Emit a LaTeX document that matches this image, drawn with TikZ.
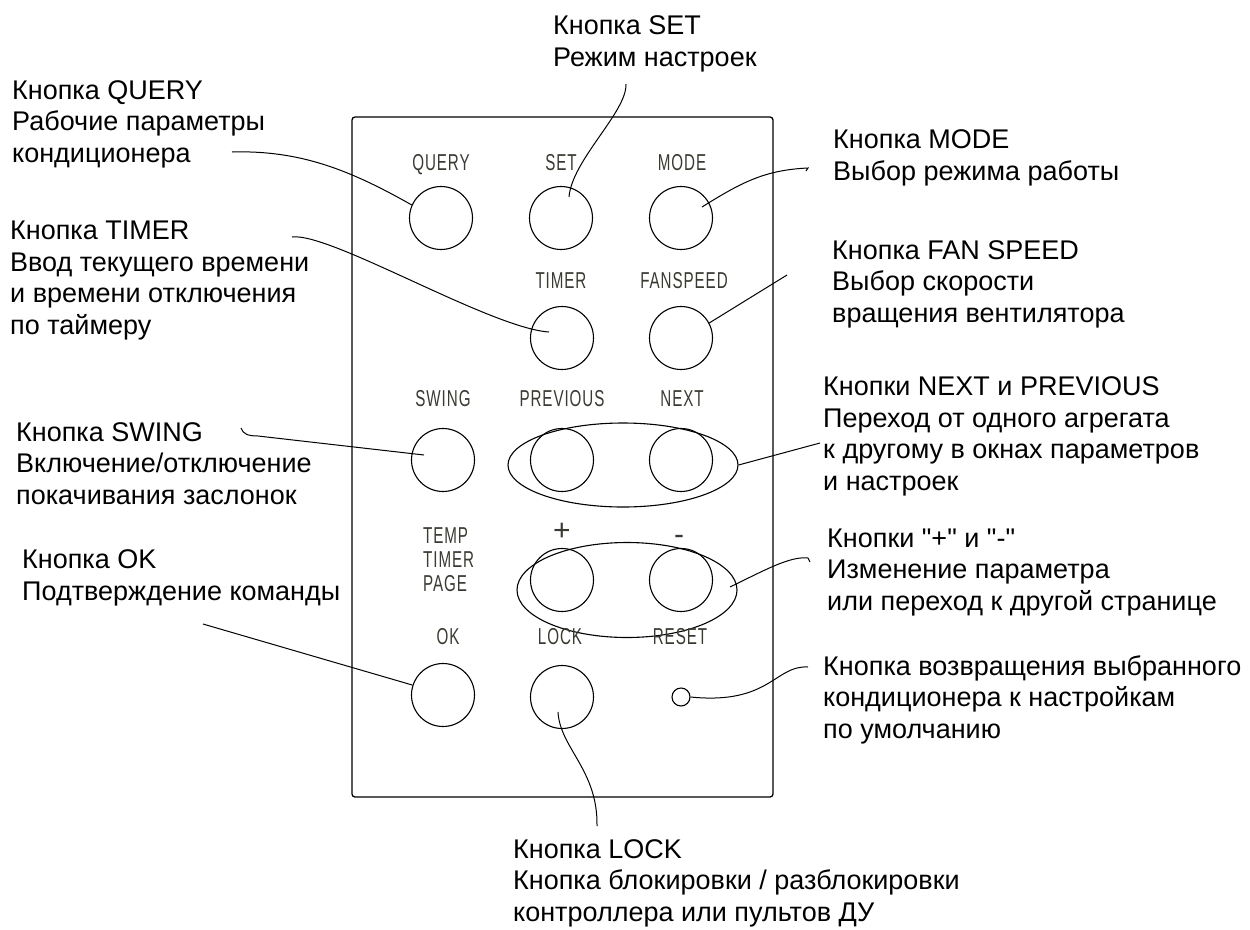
\documentclass[tikz,border=0pt]{standalone}
\usepackage{fontspec}
\setmainfont{Liberation Sans}
\newfontfamily\panelfont[FakeStretch=0.66,LetterSpace=4]{Liberation Sans}
\usetikzlibrary{shapes.geometric}
\definecolor{keygray}{RGB}{58,58,50}

\begin{document}
\begin{tikzpicture}[x=1pt, y=-1pt,
  btn/.style={draw, circle, minimum size=63pt, inner sep=0pt, line width=1.1pt},
  lbl/.style={text=keygray, font=\panelfont\fontsize{23}{24}\selectfont, anchor=base, inner sep=0pt},
  note/.style={font=\fontsize{27}{31.5}\selectfont, align=left, anchor=base west, inner sep=0pt},
  lead/.style={line width=1pt},
  grp/.style={draw, ellipse, line width=1.1pt, inner sep=0pt}]
  \useasboundingbox (0,0) rectangle (1250,929);

  % panel of the controller
  \node[draw, line width=1.3pt, rounded corners=3pt, minimum width=421pt, minimum height=680pt] (panel) at (562.5,457) {};

  % buttons
  \node[btn] (query) at (441,218) {};
  \node[btn] (set) at (561,218) {};
  \node[btn] (mode) at (681,218) {};
  \node[btn] (timer) at (562,338) {};
  \node[btn] (fan) at (681,338) {};
  \node[btn] (swing) at (443,460) {};
  \node[btn] (prev) at (562,460) {};
  \node[btn] (next) at (681,460) {};
  \node[btn] (plus) at (562,580) {};
  \node[btn] (minus) at (681,580) {};
  \node[btn] (ok) at (443,695) {};
  \node[btn] (lock) at (562,697) {};
  \node[draw, circle, minimum size=18pt, inner sep=0pt, line width=1.1pt] (reset) at (681,697) {};
  \node[grp, minimum width=230pt, minimum height=84pt] (pair) at (623,465) {};
  \node[grp, minimum width=220pt, minimum height=95pt] (pm) at (627,590) {};

  % button captions
  \node[lbl] (queryL) at (441,170) {QUERY};
  \node[lbl] (setL) at (561,170) {SET};
  \node[lbl] (modeL) at (682,170) {MODE};
  \node[lbl] (timerL) at (561,288) {TIMER};
  \node[lbl] (fanL) at (684,288) {FANSPEED};
  \node[lbl] (swingL) at (443,406) {SWING};
  \node[lbl] (prevL) at (562,406) {PREVIOUS};
  \node[lbl] (nextL) at (682,406) {NEXT};
  \node[lbl, anchor=base west, align=left] (pageL) at (423,591) {TEMP\\TIMER\\PAGE};
  \node[lbl, anchor=center, font=\fontsize{30}{30}\selectfont] (plusL) at (562,532) {+};
  \node[lbl, anchor=center, font=\fontsize{30}{30}\selectfont] (minusL) at (679,540) {-};
  \node[lbl] (okL) at (448,644) {OK};
  \node[lbl] (lockL) at (560,644) {LOCK};
  \node[lbl] (resetL) at (680,644) {RESET};

  % notes (placed at the baseline of their last line)
  \node[note] (queryT) at (12,162) {Кнопка QUERY\\Рабочие параметры\\кондиционера};
  \node[note] (setT) at (553,66) {Кнопка SET\\Режим настроек};
  \node[note] (modeT) at (833,180) {Кнопка MODE\\Выбор режима работы};
  \node[note] (timerT) at (10,334) {Кнопка TIMER\\Ввод текущего времени\\и времени отключения\\по таймеру};
  \node[note] (fanT) at (832,322) {Кнопка FAN SPEED\\Выбор скорости\\вращения вентилятора};
  \node[note] (nextT) at (823,490) {Кнопки NEXT и PREVIOUS\\Переход от одного агрегата\\к другому в окнах параметров\\и настроек};
  \node[note] (swingT) at (16,504) {Кнопка SWING\\Включение/отключение\\покачивания заслонок};
  \node[note] (plusT) at (827,610) {Кнопки \textquotedbl+\textquotedbl{} и \textquotedbl-\textquotedbl\\Изменение параметра\\или переход к другой странице};
  \node[note] (okT) at (22,600) {Кнопка OK\\Подтверждение команды};
  \node[note] (resetT) at (823,738) {Кнопка возвращения выбранного\\кондиционера к настройкам\\по умолчанию};
  \node[note] (lockT) at (513,921) {Кнопка LOCK\\Кнопка блокировки / разблокировки\\контроллера или пультов ДУ};

  % free ends of the leaders
  \coordinate (queryA) at (232,152);
  \coordinate (setA) at (626,84);
  \coordinate (modeA) at (808,168);
  \coordinate (timerA) at (292,237);
  \coordinate (fanA) at (787,275);
  \coordinate (nextA) at (820,443);
  \coordinate (swingA) at (241,428);
  \coordinate (plusA) at (808,558);
  \coordinate (okA) at (203,624);
  \coordinate (resetA) at (808,667);
  \coordinate (lockA) at (597,826);

  \draw[lead] (queryA) .. controls (300,150) and (350,170) .. (query.156);
  \draw[lead] (setA) .. controls (627,112) and (572,160) .. (569,197);
  \draw[lead] (mode.center)+(21,-11) .. controls (742,182) and (765,170) .. (modeA) -- ++(-2,3);
  \draw[lead] (timerA) .. controls (330,232) and (490,328) .. (549,332);
  \draw[lead] (fan.28) -- (fanA);
  \draw[lead] (pair.east) -- (nextA);
  \draw[lead] (swingA) .. controls (243,434) and (248,436) .. (258,436) -- (424,455);
  \draw[lead] (730,587) .. controls (765,570) and (790,556) .. (plusA) -- ++(2,4);
  \draw[lead] (okA) -- (ok.162);
  \draw[lead] (reset.east) .. controls (770,705) and (775,665) .. (resetA);
  \draw[lead] (558,712) .. controls (560,748) and (598,770) .. (lockA);
\end{tikzpicture}
\end{document}
